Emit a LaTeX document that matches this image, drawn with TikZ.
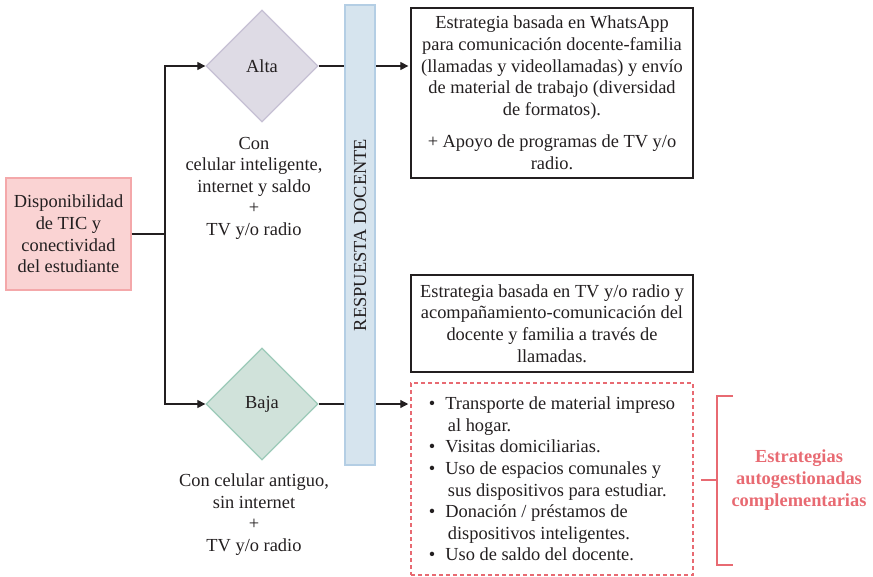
\documentclass[tikz,border=0pt]{standalone}
\usepackage{fontspec}
\setmainfont{Liberation Serif}
\usetikzlibrary{positioning, arrows.meta, shapes.geometric, calc}

\definecolor{tinta}{RGB}{35,31,32}
\definecolor{rosafondo}{RGB}{250,211,211}
\definecolor{rosaborde}{RGB}{244,168,170}
\definecolor{lilafondo}{RGB}{222,219,229}
\definecolor{lilaborde}{RGB}{198,192,212}
\definecolor{verdefondo}{RGB}{208,226,218}
\definecolor{verdeborde}{RGB}{156,202,184}
\definecolor{azulfondo}{RGB}{214,228,238}
\definecolor{azulborde}{RGB}{180,206,228}
\definecolor{rojo}{RGB}{232,106,114}

\begin{document}
\begin{tikzpicture}[x=1pt, y=-1pt,
	font=\fontsize{18.4}{21.6}\selectfont, text=tinta,
	caja/.style={draw=tinta, line width=1.3pt, minimum width=282pt, align=center, inner sep=0pt},
	rombo/.style={diamond, line width=1.3pt, minimum width=112pt, minimum height=112pt, inner sep=0pt},
	etiqueta/.style={align=center, inner sep=0pt},
	conn/.style={draw=tinta, line width=1.2pt},
	flecha/.style={conn, -{Triangle[length=8pt, width=8pt]}}]
	\useasboundingbox (0,0) rectangle (873,576);
	
	\node[caja, draw=rosaborde, fill=rosafondo, minimum width=125pt, minimum height=112pt] (disp) at (68.5,234)
		{Disponibilidad\\de TIC y\\conectividad\\del estudiante};
	\node[rombo, draw=lilaborde, fill=lilafondo] (alta) at (262,66) {Alta};
	\node[rombo, draw=verdeborde, fill=verdefondo] (baja) at (262,404) {Baja};
	\node[etiqueta, below=14pt of alta, xshift=-8pt] (altatxt)
		{Con\\celular inteligente,\\internet y saldo\\+\\TV y/o radio};
	\node[etiqueta, below=13pt of baja, xshift=-8pt] (bajatxt)
		{Con celular antiguo,\\sin internet\\+\\TV y/o radio};
	
	\node[caja, minimum height=170pt] (strat1) at (552,93)
		{Estrategia basada en WhatsApp\\para comunicación docente-familia\\(llamadas y videollamadas) y envío\\de material de trabajo (diversidad\\de formatos).\\[11pt]+ Apoyo de programas de TV y/o\\radio.};
	\node[caja, minimum height=97pt] (strat2) at (552,323.5)
		{Estrategia basada en TV y/o radio y\\acompañamiento-comunicación del\\docente y familia a través de\\llamadas.};
	\node[caja, align=left, draw=rojo, dash pattern=on 4pt off 3pt, line width=1.5pt, minimum height=192pt] (apoyo) at (552,479)
		{\textbullet\hspace{10pt}Transporte de material impreso\\
		\hspace*{19pt}al hogar.\\
		\textbullet\hspace{10pt}Visitas domiciliarias.\\
		\textbullet\hspace{10pt}Uso de espacios comunales y\\
		\hspace*{19pt}sus dispositivos para estudiar.\\
		\textbullet\hspace{10pt}Donación / préstamos de\\
		\hspace*{19pt}dispositivos inteligentes.\\
		\textbullet\hspace{10pt}Uso de saldo del docente.};
	
	\coordinate (split) at (165,234);
	\draw[conn] (disp) -- (split);
	\draw[flecha] (split) |- (alta);
	\draw[flecha] (split) |- (baja);
	\draw[flecha, shorten >=2pt] (alta) -- (alta -| strat1.west);
	\draw[flecha, shorten >=2pt] (baja) -- (baja -| apoyo.west);
	
	% barra vertical encima de las lineas
	\node[draw=azulborde, fill=azulfondo, line width=1.5pt, rotate=90, minimum width=460pt, minimum height=30pt, inner sep=0pt] (resp) at (360,235) {RESPUESTA DOCENTE};
	
	% llave de estrategias complementarias
	\draw[rojo, line width=2pt] (733,396) -| (717,565) -- (733,565);
	\draw[rojo, line width=2pt] (701,480) -- (717,480);
	\node[etiqueta, text=rojo, font=\fontsize{18.4}{21.6}\selectfont\bfseries] (comp) at (799,480)
		{Estrategias\\autogestionadas\\complementarias};
\end{tikzpicture}
\end{document}
